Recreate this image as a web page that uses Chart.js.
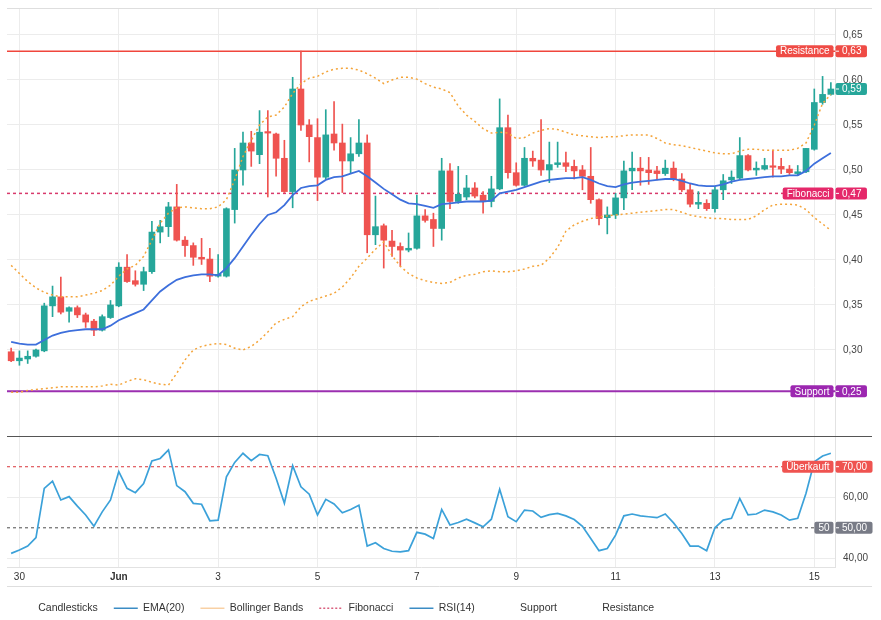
<!DOCTYPE html>
<html>
<head>
<meta charset="utf-8">
<script src="https://cdn.jsdelivr.net/npm/chart.js@4/dist/chart.umd.min.js"></script>
<style>
  html, body { margin: 0; padding: 0; background: #fff; }
</style>
</head>
<body>
<canvas id="chart" width="881" height="620"></canvas>
<script>
// 4h candles, 29 May 20:00 .. 15 Jun 08:00
const opens = [0.298,0.288,0.290,0.293,0.299,0.349,0.359,0.343,0.347,0.339,0.332,0.322,0.336,0.349,0.392,0.377,0.373,0.387,0.431,0.437,
  0.459,0.422,0.416,0.403,0.401,0.382,0.382,0.456,0.500,0.530,0.517,0.542,0.540,0.513,0.476,0.590,0.550,0.536,0.492,0.540,
  0.530,0.510,0.518,0.530,0.428,0.438,0.421,0.415,0.411,0.413,0.449,0.445,0.435,0.499,0.465,0.470,0.480,0.472,0.465,0.479,
  0.547,0.497,0.483,0.513,0.511,0.500,0.506,0.508,0.504,0.500,0.493,0.467,0.447,0.450,0.469,0.499,0.502,0.500,0.499,0.496,
  0.502,0.490,0.478,0.462,0.463,0.457,0.478,0.489,0.491,0.516,0.500,0.501,0.504,0.504,0.501,0.496,0.498,0.523,0.575,0.584];
const highs = [0.302,0.299,0.299,0.301,0.352,0.371,0.381,0.348,0.349,0.341,0.334,0.339,0.355,0.397,0.406,0.388,0.392,0.443,0.444,0.464,
  0.484,0.426,0.419,0.424,0.413,0.406,0.458,0.524,0.542,0.543,0.566,0.566,0.541,0.533,0.603,0.632,0.556,0.557,0.567,0.576,
  0.551,0.536,0.556,0.539,0.471,0.440,0.433,0.419,0.430,0.472,0.456,0.452,0.513,0.507,0.504,0.494,0.486,0.476,0.493,0.579,
  0.561,0.508,0.525,0.521,0.556,0.531,0.531,0.520,0.511,0.505,0.525,0.468,0.459,0.474,0.510,0.520,0.514,0.514,0.504,0.511,
  0.509,0.496,0.484,0.476,0.467,0.481,0.495,0.499,0.536,0.517,0.509,0.513,0.522,0.513,0.505,0.505,0.524,0.590,0.604,0.597];
const lows = [0.287,0.283,0.285,0.292,0.298,0.337,0.340,0.331,0.336,0.325,0.316,0.321,0.335,0.348,0.375,0.371,0.366,0.385,0.419,0.426,
  0.421,0.404,0.394,0.395,0.376,0.381,0.381,0.441,0.483,0.504,0.507,0.470,0.493,0.475,0.458,0.544,0.509,0.466,0.490,0.522,
  0.475,0.496,0.515,0.408,0.417,0.391,0.404,0.393,0.409,0.412,0.442,0.415,0.422,0.457,0.463,0.467,0.469,0.452,0.459,0.478,
  0.491,0.482,0.482,0.504,0.494,0.486,0.503,0.498,0.490,0.478,0.463,0.439,0.429,0.446,0.456,0.478,0.483,0.484,0.489,0.494,
  0.488,0.476,0.459,0.457,0.455,0.453,0.467,0.485,0.490,0.499,0.494,0.500,0.492,0.496,0.495,0.494,0.497,0.522,0.573,0.583];
const closes = [0.288,0.291,0.293,0.300,0.349,0.359,0.342,0.347,0.339,0.331,0.322,0.337,0.350,0.392,0.376,0.373,0.387,0.431,0.437,0.459,
  0.422,0.416,0.403,0.401,0.382,0.384,0.457,0.500,0.530,0.521,0.542,0.541,0.513,0.476,0.590,0.550,0.537,0.492,0.539,0.530,
  0.510,0.518,0.530,0.428,0.437,0.422,0.415,0.411,0.413,0.449,0.444,0.435,0.499,0.465,0.473,0.480,0.471,0.465,0.479,0.547,
  0.497,0.483,0.513,0.510,0.500,0.506,0.508,0.504,0.499,0.493,0.467,0.446,0.450,0.469,0.499,0.502,0.499,0.497,0.496,0.502,
  0.490,0.478,0.462,0.464,0.457,0.478,0.488,0.492,0.516,0.500,0.502,0.505,0.503,0.501,0.497,0.498,0.524,0.575,0.584,0.590];

const ema20 = [0.309,0.307,0.306,0.306,0.311,0.316,0.319,0.321,0.322,0.323,0.323,0.323,0.327,0.333,0.337,0.341,0.345,0.355,0.365,0.372,
  0.378,0.381,0.383,0.384,0.384,0.383,0.391,0.402,0.415,0.428,0.440,0.450,0.453,0.461,0.472,0.480,0.482,0.483,0.489,0.492,
  0.493,0.496,0.499,0.493,0.486,0.479,0.473,0.467,0.463,0.462,0.460,0.458,0.462,0.463,0.464,0.465,0.465,0.465,0.466,0.474,
  0.476,0.478,0.481,0.484,0.487,0.489,0.490,0.491,0.491,0.492,0.489,0.485,0.482,0.481,0.484,0.486,0.487,0.488,0.489,0.490,
  0.490,0.488,0.485,0.483,0.482,0.482,0.484,0.487,0.489,0.490,0.491,0.492,0.493,0.493,0.494,0.494,0.499,0.507,0.513,0.519];
const bbUpper = [0.394,0.385,0.376,0.369,0.364,0.361,0.359,0.359,0.359,0.361,0.363,0.366,0.372,0.382,0.390,0.394,0.404,0.422,0.441,0.452,
  0.458,0.459,0.458,0.457,0.457,0.459,0.467,0.489,0.515,0.533,0.550,0.559,0.561,0.570,0.585,0.596,0.602,0.604,0.609,0.612,
  0.613,0.613,0.611,0.607,0.602,0.596,0.600,0.603,0.603,0.601,0.596,0.592,0.590,0.586,0.571,0.561,0.554,0.546,0.541,0.542,
  0.541,0.535,0.536,0.541,0.544,0.546,0.545,0.542,0.539,0.538,0.537,0.536,0.537,0.537,0.538,0.539,0.539,0.539,0.535,0.530,
  0.528,0.527,0.525,0.523,0.521,0.519,0.518,0.518,0.521,0.523,0.523,0.522,0.522,0.522,0.522,0.524,0.530,0.550,0.574,0.584];
const bbLower = [0.253,0.253,0.255,0.256,0.257,0.258,0.259,0.259,0.259,0.259,0.259,0.260,0.262,0.261,0.265,0.268,0.267,0.264,0.262,0.261,
  0.274,0.289,0.300,0.304,0.306,0.307,0.306,0.302,0.300,0.304,0.311,0.320,0.330,0.334,0.337,0.348,0.354,0.357,0.360,0.363,
  0.370,0.380,0.393,0.402,0.412,0.420,0.405,0.393,0.385,0.380,0.377,0.375,0.374,0.375,0.380,0.383,0.384,0.387,0.388,0.387,
  0.387,0.388,0.390,0.393,0.394,0.402,0.414,0.432,0.439,0.443,0.446,0.448,0.449,0.450,0.451,0.452,0.453,0.454,0.455,0.456,
  0.456,0.453,0.450,0.448,0.447,0.446,0.446,0.445,0.445,0.445,0.449,0.456,0.461,0.462,0.462,0.461,0.456,0.447,0.440,0.433];
const rsi14 = [41.6,42.7,44.0,46.8,62.9,65.3,59.1,60.2,57.1,54.2,50.5,55.2,59.1,68.4,62.9,61.5,64.5,71.9,72.7,75.5,
  63.8,61.8,58.0,57.7,52.3,52.5,66.7,71.4,74.4,72.0,74.0,73.6,66.2,58.0,70.3,63.4,61.0,54.2,59.3,57.8,
  54.9,56.0,57.4,44.0,45.1,43.2,42.3,42.1,42.5,48.5,47.9,46.5,56.0,50.9,51.7,52.8,51.6,50.3,52.8,62.6,
  53.6,52.0,55.8,55.5,53.4,54.3,54.7,53.9,52.7,50.5,46.5,42.5,43.2,47.6,53.9,54.5,53.9,53.6,53.3,54.5,
  51.6,48.1,44.0,44.0,42.5,50.0,52.5,53.1,59.6,54.2,54.5,55.8,55.2,54.2,52.5,53.1,61.3,71.6,73.5,74.4];

const tickIdx = [1, 13, 25, 37, 49, 61, 73, 85, 97];
const tickLabels = ['30', 'Jun', '3', '5', '7', '9', '11', '13', '15'];
const priceTicks = [0.30, 0.35, 0.40, 0.45, 0.50, 0.55, 0.60, 0.65];
const rsiTicks = [40, 60];

const resistance = 0.632;
const fibonacci = 0.474;
const support = 0.254;
const overbought = 70;
const midline = 50;

const UP = '#26a69a', DOWN = '#ef5350';
const fmt = v => v.toFixed(2).replace('.', ',');
const idx = closes.map((_, i) => i);
const candleColor = idx.map(i => closes[i] >= opens[i] ? UP : DOWN);

Chart.defaults.font.family = 'Arial, "Liberation Sans", sans-serif';

function hline(ctx, x1, x2, y, color, width, dash) {
  ctx.beginPath();
  ctx.strokeStyle = color;
  ctx.lineWidth = width;
  ctx.setLineDash(dash);
  ctx.moveTo(x1, y);
  ctx.lineTo(x2, y);
  ctx.stroke();
}

function tag(ctx, area, y, name, value, color) {
  ctx.font = '10px Arial, "Liberation Sans", sans-serif';
  ctx.textBaseline = 'middle';
  ctx.textAlign = 'left';
  const h = 12;
  const vw = ctx.measureText(value).width + 12;
  ctx.fillStyle = color;
  ctx.beginPath();
  ctx.roundRect(area.right + 0.5, y - h / 2, vw, h, 2);
  ctx.fill();
  ctx.fillStyle = '#fff';
  ctx.fillRect(area.right + 1, y - 0.5, 3, 1);
  ctx.fillText(value, area.right + 7, y + 0.5);
  if (name) {
    const nw = ctx.measureText(name).width + 8;
    const x = area.right - 1.5 - nw;
    ctx.fillStyle = color;
    ctx.beginPath();
    ctx.roundRect(x, y - h / 2, nw, h, 2);
    ctx.fill();
    ctx.fillStyle = '#fff';
    ctx.fillText(name, x + 4, y + 0.5);
  }
}

const noPad = s => { s.paddingTop = 0; s.paddingBottom = 0; s.width = 46; };

const paneDeco = {
  id: 'paneDeco',
  beforeDraw(chart) {
    chart.legend.left = -7;
  },
  beforeDatasetsDraw(chart) {
    const { ctx, chartArea: a, scales } = chart;
    const y = scales.y, r = scales.yr;
    ctx.save();
    hline(ctx, a.left, a.right, y.getPixelForValue(support), '#9b2fb0', 2, []);
    hline(ctx, a.left, a.right, y.getPixelForValue(resistance), '#f0463c', 1.5, []);
    hline(ctx, a.left, a.right, y.getPixelForValue(fibonacci), '#d83a6c', 1.5, [3, 3]);
    hline(ctx, a.left, a.right, r.getPixelForValue(overbought), '#e0585c', 1.2, [3, 3]);
    hline(ctx, a.left, a.right, r.getPixelForValue(midline), '#6b6b6b', 1.2, [3, 3]);
    ctx.restore();
  },
  afterDraw(chart) {
    const { ctx, chartArea: a, scales } = chart;
    const y = scales.y, r = scales.yr;
    ctx.save();
    hline(ctx, a.left, 872, a.top + 0.5, '#dedede', 1, []);
    hline(ctx, a.left, 872, y.bottom + 0.5, '#555', 1, []);
    hline(ctx, a.left, 872, 586.5, '#dedede', 1, []);
    tag(ctx, a, y.getPixelForValue(resistance), 'Resistance', fmt(resistance), '#ef4b45');
    tag(ctx, a, y.getPixelForValue(closes[closes.length - 1]), null, fmt(closes[closes.length - 1]), UP);
    tag(ctx, a, y.getPixelForValue(fibonacci), 'Fibonacci', fmt(fibonacci), '#e5286a');
    tag(ctx, a, y.getPixelForValue(support), 'Support', fmt(support), '#9c27b0');
    tag(ctx, a, r.getPixelForValue(overbought), 'Überkauft', fmt(overbought), '#ef5350');
    tag(ctx, a, r.getPixelForValue(midline), String(midline), fmt(midline), '#787b86');
    ctx.restore();
  }
};

const legendItems = [
  ['Candlesticks', null, []],
  ['EMA(20)', '#3b8cc4', []],
  ['Bollinger Bands', '#f8d0a4', []],
  ['Fibonacci', '#d9607f', [2, 2]],
  ['RSI(14)', '#3b8cc4', []],
  ['Support', null, []],
  ['Resistance', null, []]
];

new Chart(document.getElementById('chart'), {
  type: 'bar',
  data: {
    datasets: [
      {
        type: 'bar', label: 'Wicks', order: 5, yAxisID: 'y', grouped: false,
        data: idx.map(i => ({ x: i, y: [lows[i], highs[i]] })),
        backgroundColor: candleColor, barThickness: 1
      },
      {
        type: 'bar', label: 'Candlesticks', order: 4, yAxisID: 'y', grouped: false,
        data: idx.map(i => ({ x: i, y: [opens[i], closes[i]] })),
        backgroundColor: candleColor, barThickness: 6, minBarLength: 1.5
      },
      {
        type: 'line', label: 'BB oben', order: 2, yAxisID: 'y',
        data: idx.map(i => ({ x: i, y: bbUpper[i] })),
        borderColor: '#f4a43a', borderWidth: 1.5, borderDash: [2, 3], pointRadius: 0
      },
      {
        type: 'line', label: 'BB unten', order: 2, yAxisID: 'y',
        data: idx.map(i => ({ x: i, y: bbLower[i] })),
        borderColor: '#f4a43a', borderWidth: 1.5, borderDash: [2, 3], pointRadius: 0
      },
      {
        type: 'line', label: 'EMA(20)', order: 1, yAxisID: 'y',
        data: idx.map(i => ({ x: i, y: ema20[i] })),
        borderColor: '#3d6fdc', borderWidth: 1.8, pointRadius: 0
      },
      {
        type: 'line', label: 'RSI(14)', order: 1, yAxisID: 'yr',
        data: idx.map(i => ({ x: i, y: rsi14[i] })),
        borderColor: '#3ba1d9', borderWidth: 1.7, pointRadius: 0
      }
    ]
  },
  options: {
    responsive: false,
    animation: false,
    devicePixelRatio: 1,
    events: [],
    layout: { padding: { left: 7, top: 8, right: 0, bottom: 0 } },
    scales: {
      x: {
        type: 'linear', min: -0.5, max: 99.5, offset: false,
        afterBuildTicks: s => { s.ticks = tickIdx.map(v => ({ value: v })); },
        afterFit: s => { s.height = 20; s.paddingLeft = 0; s.paddingRight = 0; },
        grid: { color: '#ececec', drawTicks: false, offset: false },
        border: { color: '#e2e2e2' },
        ticks: {
          padding: 4, color: '#333', maxRotation: 0, autoSkip: false,
          font: c => ({ size: 10, weight: c.tick && c.tick.value === 13 ? 'bold' : 'normal' }),
          callback: v => tickLabels[tickIdx.indexOf(v)]
        }
      },
      y: {
        type: 'linear', position: 'right', stack: 'pane', stackWeight: 428,
        min: 0.2044, max: 0.68,
        afterBuildTicks: s => { s.ticks = priceTicks.map(v => ({ value: v })); },
        afterFit: noPad,
        grid: { color: '#ececec', drawTicks: false },
        border: { color: '#e2e2e2' },
        ticks: { padding: 8, color: '#444', font: { size: 10 }, callback: v => fmt(v) }
      },
      yr: {
        type: 'linear', position: 'right', stack: 'pane', stackWeight: 131,
        min: 37.15, max: 80.05,
        afterBuildTicks: s => { s.ticks = rsiTicks.map(v => ({ value: v })); },
        afterFit: noPad,
        grid: { color: '#ececec', drawTicks: false },
        border: { color: '#e2e2e2' },
        ticks: { padding: 8, color: '#444', font: { size: 10 }, callback: v => fmt(v) }
      }
    },
    plugins: {
      tooltip: { enabled: false },
      legend: {
        position: 'bottom', align: 'start', maxHeight: 33,
        labels: {
          usePointStyle: true, pointStyleWidth: 24, padding: 16,
          color: '#333', font: { size: 10.5 },
          generateLabels: () => legendItems.map(([text, color, dash]) => ({
            text, pointStyle: 'line', hidden: false,
            fillStyle: 'transparent', strokeStyle: color || 'transparent',
            lineWidth: color ? 1.5 : 0, lineDash: dash, fontColor: '#333'
          }))
        }
      }
    }
  },
  plugins: [paneDeco]
});
</script>
</body>
</html>
